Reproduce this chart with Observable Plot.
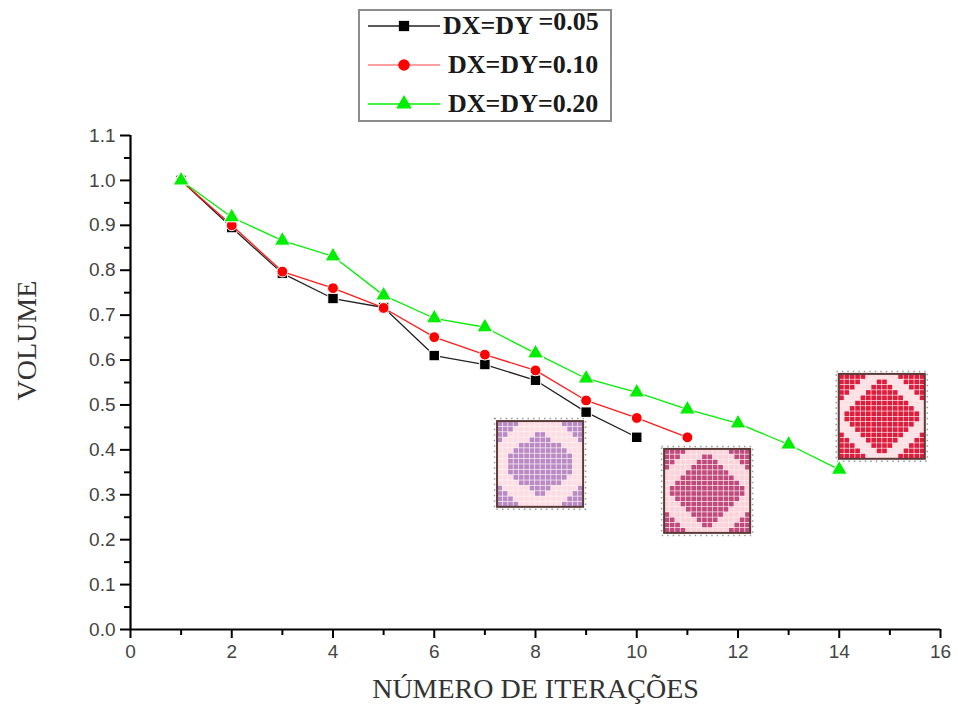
<!DOCTYPE html>
<html><head><meta charset="utf-8">
<script src="https://cdn.jsdelivr.net/npm/d3@7"></script>
<script src="https://cdn.jsdelivr.net/npm/@observablehq/plot@0.6"></script>
<style>
body{margin:0;background:#fff;}
#wrap{position:relative;width:958px;height:714px;}
#legend{position:absolute;left:358px;top:9px;width:250px;height:109px;border:2px solid #8c8c8c;background:#fff;
  font-family:"Liberation Serif","Times New Roman",serif;font-weight:bold;font-size:26px;color:#1a1a1a;}
.row{position:absolute;display:flex;align-items:center;height:30px;white-space:nowrap;}
.row svg{display:block;}
</style></head>
<body><div id="wrap"><div id="legend"></div></div>
<script>
// ---- data ----
const iterations = [1,2,3,4,5,6,7,8,9,10,11,12,13,14];
const seriesNames = ["DX=DY=0.05","DX=DY=0.10","DX=DY=0.20"];
const volume005 = [1.000,0.895,0.793,0.737,0.717,0.610,0.590,0.555,0.484,0.428];
const volume010 = [1.000,0.900,0.797,0.760,0.716,0.651,0.612,0.577,0.510,0.471,0.428];
const volume020 = [1.000,0.918,0.866,0.831,0.744,0.693,0.673,0.615,0.559,0.528,0.490,0.459,0.412,0.356];
const xTicks = [0,2,4,6,8,10,12,14,16];
const xMinorTicks = [1,3,5,7,9,11,13,15];
const yTicks = [0,0.1,0.2,0.3,0.4,0.5,0.6,0.7,0.8,0.9,1.0,1.1];
const yMinorTicks = [0.05,0.15,0.25,0.35,0.45,0.55,0.65,0.75,0.85,0.95,1.05];
const xLabel = "NÚMERO DE ITERAÇÕES";
const yLabel = "VOLUME";

// inset pictures (topology snapshots): extents in data units, pixel patterns
const insetExtents = [
  {x0:7.25, x1:8.95, y0:0.272, y1:0.463},
  {x0:10.55, x1:12.25, y0:0.214, y1:0.401},
  {x0:14.0, x1:15.7, y0:0.379, y1:0.568}
];
const insetPattern1 = [
"####........####",
"###..........###",
"##.....##.....##",
"#.....####.....#",
"....########....",
"...##########...",
"..############..",
"..############..",
"..############..",
"..############..",
"...##########...",
"....########....",
"#.....####.....#",
"##.....##.....##",
"###..........###",
"####........####"];
const insetPattern2 = [
"####........####",
"###....##....###",
"##....####....##",
"#....######....#",
"....########....",
"...##########...",
"..############..",
".##############.",
".##############.",
"..############..",
"...##########...",
"....########....",
"#....######....#",
"##....####....##",
"###....##....###",
"####........####"];
const insetPattern3 = [
"#####......#####",
"####...##...####",
"###...####...###",
"##...######...##",
"#...########...#",
"...##########...",
"..############..",
".##############.",
".##############.",
"..############..",
"...##########...",
"#...########...#",
"##...######...##",
"###...####...###",
"####...##...####",
"#####......#####"];

// ---- styles ----
const lineColors = ["#222222","#ff1a1a","#00f000"];
const markerColors = ["#000000","#ff0000","#00ee00"];
const markerSymbols = ["square","circle","triangle"];
const insetStyles = [
  {dark:"#b98ac4", light:"#fcdde3", mesh:"#fff3f5"},
  {dark:"#c04a7c", light:"#fbd3da", mesh:"#fdeef1"},
  {dark:"#e01c3c", light:"#fde0e3", mesh:"#fbe9ec"}
];

// ---- build tables ----
const seriesValues = [volume005, volume010, volume020];
const series = seriesValues.map((vals, k) => vals.map((v, i) => ({x: iterations[i], y: v, k})));
const patterns = [insetPattern1, insetPattern2, insetPattern3];
const cells = [];
patterns.forEach((pat, k) => {
  const e = insetExtents[k], n = pat.length;
  const w = (e.x1 - e.x0) / n, h = (e.y1 - e.y0) / n;
  pat.forEach((row, r) => {
    [...row].forEach((ch, c) => {
      cells.push({x1: e.x0 + c*w, x2: e.x0 + (c+1)*w, y1: e.y1 - (r+1)*h, y2: e.y1 - r*h,
        fill: ch === "#" ? insetStyles[k].dark : insetStyles[k].light});
    });
  });
});
const insetBg = insetExtents.map((e, k) => ({...e, fill: insetStyles[k].mesh}));

const marks = [];
marks.push(Plot.rect(insetBg, {x1:"x0", x2:"x1", y1:"y0", y2:"y1", fill:"fill"}));
marks.push(Plot.rect(cells, {x1:"x1", x2:"x2", y1:"y1", y2:"y2", fill:"fill", inset:0.35}));
marks.push(Plot.rect(insetExtents, {x1:"x0", x2:"x1", y1:"y0", y2:"y1", fill:"none", stroke:"#999", strokeWidth:1.5, strokeDasharray:"1.5,4", inset:-2.5}));
marks.push(Plot.rect(insetExtents, {x1:"x0", x2:"x1", y1:"y0", y2:"y1", fill:"none", stroke:"#5b3a3a", strokeWidth:2}));
series.forEach((s, k) => {
  marks.push(Plot.line(s, {x:"x", y:"y", stroke:lineColors[k], strokeWidth:1.3}));
  marks.push(Plot.dot(s, {x:"x", y:"y", symbol:markerSymbols[k], fill:markerColors[k], stroke:"white", strokeWidth:1,
    r: k===1 ? 5.4 : 5.9}));
});
marks.push(Plot.ruleX([0], {y1:0, y2:1.1, stroke:"#000", strokeWidth:2.2}));
marks.push(Plot.ruleY([0], {x1:0, x2:16, stroke:"#000", strokeWidth:2.2}));
marks.push(Plot.axisY(yTicks, {anchor:"left", tickSize:10, tickPadding:5, tickFormat:d3.format(".1f"), strokeWidth:2,
  stroke:"#000", fill:"#444", fontSize:19, fontFamily:"Liberation Sans, Arial, sans-serif", label:null}));
marks.push(Plot.axisY(yMinorTicks, {anchor:"left", tickSize:6, tickFormat:() => "", strokeWidth:2, stroke:"#000", label:null}));
marks.push(Plot.axisX(xTicks, {anchor:"bottom", tickSize:9, tickPadding:6, strokeWidth:2, stroke:"#000", fill:"#444",
  fontSize:19, fontFamily:"Liberation Sans, Arial, sans-serif", label:null}));
marks.push(Plot.axisX(xMinorTicks, {anchor:"bottom", tickSize:6, tickFormat:() => "", strokeWidth:2, stroke:"#000", label:null}));
marks.push(Plot.text([xLabel], {text:d=>d, frameAnchor:"bottom", dy:68, fontSize:28, fill:"#333",
  fontFamily:"Liberation Serif, Times New Roman, serif"}));
marks.push(Plot.text([yLabel], {text:d=>d, frameAnchor:"left", dx:-103, dy:18, rotate:-90, fontSize:28, fill:"#333",
  fontFamily:"Liberation Serif, Times New Roman, serif"}));

const chart = Plot.plot({
  width:958, height:714,
  marginLeft:130, marginRight:18, marginTop:135, marginBottom:85,
  x:{domain:[0,16]},
  y:{domain:[0,1.1]},
  color:{type:"identity"},
  style:{background:"#fff", overflow:"visible"},
  marks
});
document.getElementById("wrap").prepend(chart);

// ---- legend ----
const legend = document.getElementById("legend");
const rowTops = [0, 39, 78];
const textLefts = [83, 88, 88];
seriesNames.forEach((name, k) => {
  const row = document.createElement("div");
  row.className = "row";
  row.style.top = rowTops[k] + "px";
  row.style.left = "8px";
  const svg = d3.create("svg").attr("width", textLefts[k] - 8).attr("height", 30);
  svg.append("line").attr("x1", 0).attr("x2", 72).attr("y1", 15).attr("y2", 15)
    .attr("stroke", k===1 ? "#ff8080" : lineColors[k]).attr("stroke-width", 1.6);
  const sym = d3.symbol().type(k===0 ? d3.symbolSquare : k===1 ? d3.symbolCircle : d3.symbolTriangle)
    .size(Math.PI * 5.8 * 5.8);
  svg.append("path").attr("d", sym()).attr("transform", "translate(36,15)").attr("fill", markerColors[k]);
  row.appendChild(svg.node());
  const span = document.createElement("span");
  if (k === 0) {
    span.innerHTML = "DX=DY <span style='position:relative;top:-4px'>=0.05</span>";
  } else {
    span.textContent = name;
  }
  row.appendChild(span);
  legend.appendChild(row);
});
</script>
</body></html>
